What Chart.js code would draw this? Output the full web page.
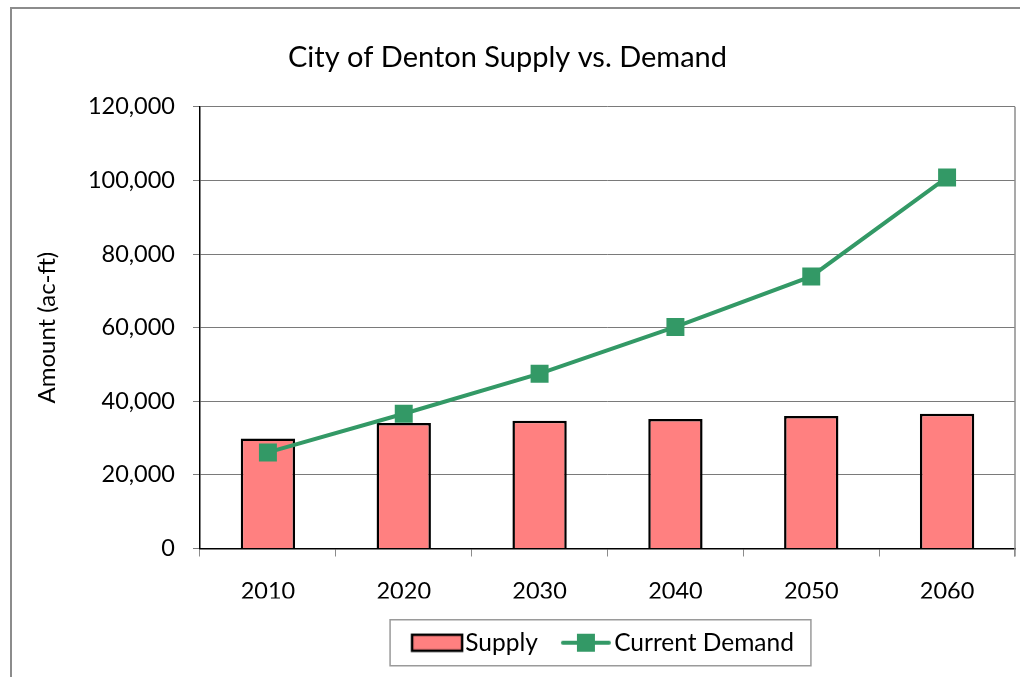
<!DOCTYPE html>
<html>
<head>
<meta charset="utf-8">
<script src="https://cdn.jsdelivr.net/npm/chart.js@4.4.1/dist/chart.umd.min.js"></script>
<style>
  html, body { margin: 0; padding: 0; background: #fff; }
  #wrap { width: 1020px; height: 677px; position: relative; }
</style>
</head>
<body>
<div id="wrap"><canvas id="chart"></canvas></div>
<script>
// Data
const years = ['2010', '2020', '2030', '2040', '2050', '2060'];
const supply = [29900, 34100, 34700, 35200, 36000, 36600];
const demand = [26100, 36600, 47500, 60200, 73900, 100800];
const yMin = 0, yMax = 120000, yStep = 20000;

const FONT = 'Lato, sans-serif';
const GREEN = '#339966';
const PINK = '#FF8080';

// small legend swatches drawn on canvases
function makeSwatch(w, h, draw) {
    const c = document.createElement('canvas');
    c.width = w; c.height = h;
    draw(c.getContext('2d'));
    return c;
}
const supplySwatch = makeSwatch(54, 20, (ctx) => {
    ctx.fillStyle = PINK;
    ctx.fillRect(2, 2, 50, 16);
    ctx.strokeStyle = '#000';
    ctx.lineWidth = 2.5;
    ctx.strokeRect(2, 2, 50, 16);
});
const demandSwatch = makeSwatch(54, 20, (ctx) => {
    ctx.strokeStyle = GREEN;
    ctx.lineWidth = 4;
    ctx.lineCap = 'round';
    ctx.beginPath();
    ctx.moveTo(4, 10);
    ctx.lineTo(50, 10);
    ctx.stroke();
    ctx.fillStyle = GREEN;
    ctx.fillRect(18, 1, 18, 18);
});

// frame around the whole chart, right border of plot area, box round the legend
const framePlugin = {
    id: 'frame',
    beforeDraw(chart) {
        const ctx = chart.ctx;
        ctx.save();
        ctx.fillStyle = '#fff';
        ctx.fillRect(0, 0, chart.width, chart.height);
        ctx.strokeStyle = '#8c8c8c';
        ctx.lineWidth = 2;
        ctx.strokeRect(11, 8, chart.width + 20, chart.height + 20);
        ctx.restore();
    },
    afterDraw(chart) {
        const ctx = chart.ctx;
        const a = chart.chartArea;
        ctx.save();
        ctx.strokeStyle = '#8c8c8c';
        ctx.lineWidth = 1.5;
        ctx.beginPath();
        ctx.moveTo(a.right, a.top);
        ctx.lineTo(a.right, a.bottom + 8);
        ctx.stroke();

        const boxes = chart.legend.legendHitBoxes;
        if (boxes && boxes.length) {
            const first = boxes[0], last = boxes[boxes.length - 1];
            const x0 = first.left - 31;
            const x1 = last.left + last.width + 17;
            const cy = first.top + first.height / 2;
            ctx.strokeStyle = '#9a9a9a';
            ctx.lineWidth = 1.5;
            ctx.strokeRect(x0, cy - 23, x1 - x0, 46);
        }
        ctx.restore();
    }
};

const ctx = document.getElementById('chart').getContext('2d');
new Chart(ctx, {
    type: 'bar',
    data: {
        labels: years,
        datasets: [{
            type: 'bar',
            label: 'Supply',
            data: supply,
            backgroundColor: PINK,
            borderColor: '#000',
            borderWidth: 2.5,
            barPercentage: 0.4,
            categoryPercentage: 1,
            order: 1
        }, {
            type: 'line',
            label: 'Current Demand',
            data: demand,
            borderColor: GREEN,
            backgroundColor: GREEN,
            borderWidth: 4,
            tension: 0,
            pointStyle: 'rect',
            pointRadius: 12.7,
            pointBorderWidth: 0,
            pointBackgroundColor: GREEN,
            order: 0
        }]
    },
    options: {
        responsive: true,
        maintainAspectRatio: false,
        animation: false,
        layout: { autoPadding: false, padding: { left: 0, right: 5, top: 0, bottom: 12 } },
        plugins: {
            title: {
                display: true,
                text: 'City of Denton Supply vs. Demand',
                color: '#000',
                font: { family: FONT, size: 29, weight: 'normal' },
                padding: { top: 40, bottom: 32 }
            },
            legend: {
                position: 'bottom',
                fullSize: false,
                labels: {
                    color: '#000',
                    font: { family: FONT, size: 24.5 },
                    usePointStyle: true,
                    pointStyleWidth: 32,
                    boxHeight: 20,
                    padding: 32,
                    sort: (a, b) => a.datasetIndex - b.datasetIndex,
                    generateLabels(chart) {
                        const items = Chart.defaults.plugins.legend.labels.generateLabels(chart);
                        items.forEach((it) => {
                            it.pointStyle = it.datasetIndex === 0 ? supplySwatch : demandSwatch;
                        });
                        return items;
                    }
                }
            },
            tooltip: { enabled: false }
        },
        scales: {
            x: {
                offset: true,
                grid: { display: true, drawOnChartArea: false, drawTicks: true, tickLength: 8, color: '#8c8c8c', offset: true },
                border: { color: '#000', width: 1.5 },
                ticks: { color: '#000', font: { family: FONT, size: 23.5 }, padding: 21 },
                afterFit(scale) { scale.height = 50; }
            },
            y: {
                min: yMin,
                max: yMax,
                ticks: {
                    stepSize: yStep,
                    color: '#000',
                    font: { family: FONT, size: 23.5 },
                    padding: 18,
                    callback: (v) => v.toLocaleString('en-US')
                },
                grid: { color: '#7a7a7a', lineWidth: 1, tickLength: 7 },
                border: { color: '#000', width: 1.5 },
                title: {
                    display: true,
                    text: 'Amount (ac-ft)',
                    color: '#000',
                    font: { family: FONT, size: 24 },
                    padding: { top: 33 }
                },
                afterFit(scale) { scale.width = 200; }
            }
        }
    },
    plugins: [framePlugin]
});
</script>
</body>
</html>
